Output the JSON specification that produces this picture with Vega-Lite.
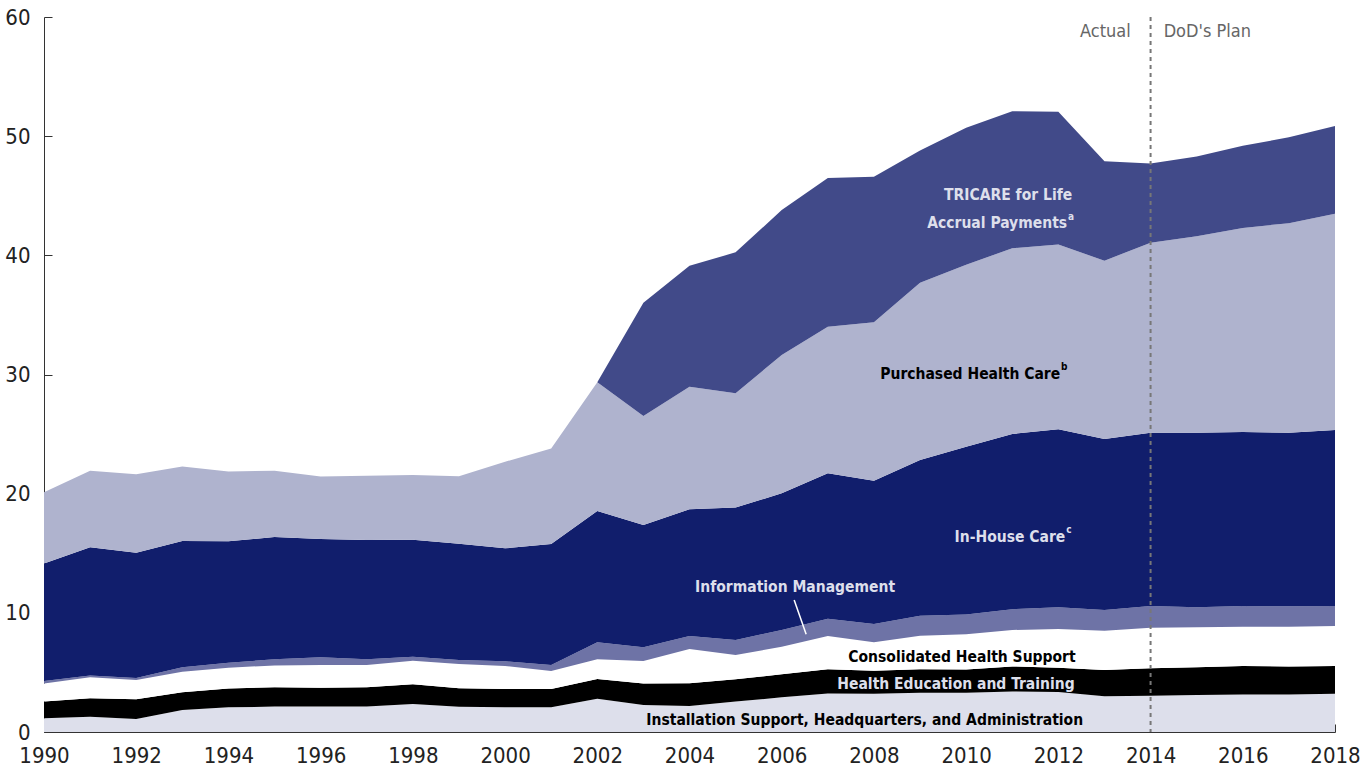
{
  "$schema": "https://vega.github.io/schema/vega-lite/v6.json",
  "width": 1291,
  "height": 715,
  "autosize": {"type": "none"},
  "padding": {"left": 44, "top": 17, "right": 32, "bottom": 41},
  "background": "white",
  "config": {
    "view": {"stroke": null},
    "axis": {
      "grid": false,
      "domainColor": "#333333",
      "tickColor": "#333333",
      "labelColor": "#222222",
      "labelFont": "Liberation Sans Narrow, DejaVu Sans Condensed, sans-serif",
      "labelFontSize": 22,
      "title": null
    }
  },
  "datasets": {
    "budget": [
      {"year": 1990, "1_Installation": 1.15, "2_Education": 1.40, "3_Consolidated": 1.53, "4_InfoMgmt": 0.20, "5_InHouse": 9.87, "6_Purchased": 5.96, "7_TFL": 0},
      {"year": 1991, "1_Installation": 1.29, "2_Education": 1.54, "3_Consolidated": 1.76, "4_InfoMgmt": 0.16, "5_InHouse": 10.75, "6_Purchased": 6.43, "7_TFL": 0},
      {"year": 1992, "1_Installation": 1.09, "2_Education": 1.65, "3_Consolidated": 1.62, "4_InfoMgmt": 0.17, "5_InHouse": 10.52, "6_Purchased": 6.57, "7_TFL": 0},
      {"year": 1993, "1_Installation": 1.85, "2_Education": 1.48, "3_Consolidated": 1.73, "4_InfoMgmt": 0.37, "5_InHouse": 10.60, "6_Purchased": 6.24, "7_TFL": 0},
      {"year": 1994, "1_Installation": 2.07, "2_Education": 1.59, "3_Consolidated": 1.74, "4_InfoMgmt": 0.42, "5_InHouse": 10.18, "6_Purchased": 5.85, "7_TFL": 0},
      {"year": 1995, "1_Installation": 2.13, "2_Education": 1.62, "3_Consolidated": 1.84, "4_InfoMgmt": 0.51, "5_InHouse": 10.26, "6_Purchased": 5.57, "7_TFL": 0},
      {"year": 1996, "1_Installation": 2.13, "2_Education": 1.59, "3_Consolidated": 1.90, "4_InfoMgmt": 0.65, "5_InHouse": 9.93, "6_Purchased": 5.25, "7_TFL": 0},
      {"year": 1997, "1_Installation": 2.13, "2_Education": 1.62, "3_Consolidated": 1.87, "4_InfoMgmt": 0.48, "5_InHouse": 10.01, "6_Purchased": 5.39, "7_TFL": 0},
      {"year": 1998, "1_Installation": 2.35, "2_Education": 1.65, "3_Consolidated": 1.98, "4_InfoMgmt": 0.34, "5_InHouse": 9.82, "6_Purchased": 5.43, "7_TFL": 0},
      {"year": 1999, "1_Installation": 2.12, "2_Education": 1.56, "3_Consolidated": 2.02, "4_InfoMgmt": 0.35, "5_InHouse": 9.75, "6_Purchased": 5.67, "7_TFL": 0},
      {"year": 2000, "1_Installation": 2.07, "2_Education": 1.54, "3_Consolidated": 1.93, "4_InfoMgmt": 0.39, "5_InHouse": 9.48, "6_Purchased": 7.27, "7_TFL": 0},
      {"year": 2001, "1_Installation": 2.07, "2_Education": 1.54, "3_Consolidated": 1.51, "4_InfoMgmt": 0.50, "5_InHouse": 10.16, "6_Purchased": 8.02, "7_TFL": 0},
      {"year": 2002, "1_Installation": 2.80, "2_Education": 1.65, "3_Consolidated": 1.65, "4_InfoMgmt": 1.43, "5_InHouse": 11.02, "6_Purchased": 10.79, "7_TFL": 0},
      {"year": 2003, "1_Installation": 2.27, "2_Education": 1.79, "3_Consolidated": 1.90, "4_InfoMgmt": 1.15, "5_InHouse": 10.26, "6_Purchased": 9.15, "7_TFL": 9.51},
      {"year": 2004, "1_Installation": 2.18, "2_Education": 1.91, "3_Consolidated": 2.87, "4_InfoMgmt": 1.10, "5_InHouse": 10.63, "6_Purchased": 10.29, "7_TFL": 10.15},
      {"year": 2005, "1_Installation": 2.55, "2_Education": 1.87, "3_Consolidated": 2.04, "4_InfoMgmt": 1.26, "5_InHouse": 11.11, "6_Purchased": 9.59, "7_TFL": 11.83},
      {"year": 2006, "1_Installation": 2.91, "2_Education": 1.93, "3_Consolidated": 2.32, "4_InfoMgmt": 1.40, "5_InHouse": 11.47, "6_Purchased": 11.61, "7_TFL": 12.16},
      {"year": 2007, "1_Installation": 3.24, "2_Education": 2.02, "3_Consolidated": 2.80, "4_InfoMgmt": 1.45, "5_InHouse": 12.20, "6_Purchased": 12.30, "7_TFL": 12.49},
      {"year": 2008, "1_Installation": 3.20, "2_Education": 1.95, "3_Consolidated": 2.38, "4_InfoMgmt": 1.53, "5_InHouse": 12.03, "6_Purchased": 13.29, "7_TFL": 12.22},
      {"year": 2009, "1_Installation": 3.30, "2_Education": 1.96, "3_Consolidated": 2.82, "4_InfoMgmt": 1.67, "5_InHouse": 13.07, "6_Purchased": 14.88, "7_TFL": 11.10},
      {"year": 2010, "1_Installation": 3.30, "2_Education": 1.95, "3_Consolidated": 2.95, "4_InfoMgmt": 1.65, "5_InHouse": 14.09, "6_Purchased": 15.26, "7_TFL": 11.50},
      {"year": 2011, "1_Installation": 3.40, "2_Education": 2.10, "3_Consolidated": 3.06, "4_InfoMgmt": 1.74, "5_InHouse": 14.71, "6_Purchased": 15.59, "7_TFL": 11.50},
      {"year": 2012, "1_Installation": 3.35, "2_Education": 2.05, "3_Consolidated": 3.24, "4_InfoMgmt": 1.82, "5_InHouse": 14.94, "6_Purchased": 15.50, "7_TFL": 11.15},
      {"year": 2013, "1_Installation": 3.00, "2_Education": 2.20, "3_Consolidated": 3.30, "4_InfoMgmt": 1.74, "5_InHouse": 14.35, "6_Purchased": 14.96, "7_TFL": 8.35},
      {"year": 2014, "1_Installation": 3.05, "2_Education": 2.30, "3_Consolidated": 3.40, "4_InfoMgmt": 1.82, "5_InHouse": 14.55, "6_Purchased": 15.94, "7_TFL": 6.64},
      {"year": 2015, "1_Installation": 3.10, "2_Education": 2.33, "3_Consolidated": 3.35, "4_InfoMgmt": 1.68, "5_InHouse": 14.66, "6_Purchased": 16.48, "7_TFL": 6.70},
      {"year": 2016, "1_Installation": 3.15, "2_Education": 2.39, "3_Consolidated": 3.30, "4_InfoMgmt": 1.73, "5_InHouse": 14.60, "6_Purchased": 17.13, "7_TFL": 6.90},
      {"year": 2017, "1_Installation": 3.15, "2_Education": 2.35, "3_Consolidated": 3.34, "4_InfoMgmt": 1.71, "5_InHouse": 14.57, "6_Purchased": 17.58, "7_TFL": 7.20},
      {"year": 2018, "1_Installation": 3.20, "2_Education": 2.34, "3_Consolidated": 3.36, "4_InfoMgmt": 1.67, "5_InHouse": 14.77, "6_Purchased": 18.16, "7_TFL": 7.35}
    ],
    "labels": [
      {"year": 2010.91, "value": 45.06, "text": "TRICARE for Life", "tone": "light"},
      {"year": 2006.29, "value": 12.17, "text": "Information Management", "tone": "light"},
      {"year": 2009.91, "value": 6.29, "text": "Consolidated Health Support", "tone": "dark"},
      {"year": 2009.78, "value": 4.03, "text": "Health Education and Training", "tone": "light"},
      {"year": 2007.80, "value": 1.01, "text": "Installation Support, Headquarters, and Administration", "tone": "dark"}
    ],
    "labelsNoted": [
      {"year": 2012.19, "value": 42.71, "text": "Accrual Payments", "tone": "light"},
      {"year": 2012.04, "value": 30.04, "text": "Purchased Health Care", "tone": "dark"},
      {"year": 2012.15, "value": 16.36, "text": "In-House Care", "tone": "light"}
    ],
    "sups": [
      {"year": 2012.21, "value": 43.22, "text": "a", "tone": "light"},
      {"year": 2012.06, "value": 30.63, "text": "b", "tone": "dark"},
      {"year": 2012.17, "value": 16.95, "text": "c", "tone": "light"}
    ],
    "periods": [
      {"year": 2013.02, "value": 58.74, "text": "Actual"},
      {"year": 2015.23, "value": 58.74, "text": "DoD's Plan"}
    ],
    "pointer": [
      {"year": 2006.27, "value": 11.08, "year2": 2006.53, "value2": 8.2}
    ],
    "divider": [
      {"year": 2014}
    ]
  },
  "layer": [
    {
      "data": {"name": "budget"},
      "transform": [
        {"fold": ["1_Installation", "2_Education", "3_Consolidated", "4_InfoMgmt", "5_InHouse", "6_Purchased", "7_TFL"], "as": ["series", "value"]}
      ],
      "mark": {"type": "area", "interpolate": "linear"},
      "encoding": {
        "x": {
          "field": "year", "type": "quantitative",
          "scale": {"domain": [1990, 2018], "nice": false, "zero": false},
          "axis": {
            "values": [1990, 1992, 1994, 1996, 1998, 2000, 2002, 2004, 2006, 2008, 2010, 2012, 2014, 2016, 2018],
            "format": "d", "tickSize": -8, "labelPadding": 21, "labelFlush": false
          }
        },
        "y": {
          "field": "value", "type": "quantitative", "stack": "zero",
          "scale": {"domain": [0, 60], "nice": false},
          "axis": {"values": [0, 10, 20, 30, 40, 50, 60], "tickSize": -8, "labelPadding": 22, "labelFlush": false}
        },
        "color": {
          "field": "series", "type": "nominal",
          "scale": {
            "domain": ["1_Installation", "2_Education", "3_Consolidated", "4_InfoMgmt", "5_InHouse", "6_Purchased", "7_TFL"],
            "range": ["#dddfeb", "#000000", "#ffffff", "#6e73a6", "#111e6c", "#afb3ce", "#414a89"]
          },
          "legend": null
        },
        "order": {"field": "series", "sort": "ascending"}
      }
    },
    {
      "data": {"name": "divider"},
      "mark": {"type": "rule", "color": "#777777", "strokeDash": [4, 4], "strokeWidth": 2},
      "encoding": {"x": {"field": "year", "type": "quantitative"}}
    },
    {
      "data": {"name": "pointer"},
      "mark": {"type": "rule", "color": "#ffffff", "strokeWidth": 1.5},
      "encoding": {
        "x": {"field": "year", "type": "quantitative"},
        "y": {"field": "value", "type": "quantitative"},
        "x2": {"field": "year2"},
        "y2": {"field": "value2"}
      }
    },
    {
      "data": {"name": "labels"},
      "mark": {"type": "text", "font": "DejaVu Sans Condensed, sans-serif", "fontWeight": "bold", "fontSize": 15.5, "align": "center", "baseline": "middle", "opacity": 1},
      "encoding": {
        "x": {"field": "year", "type": "quantitative"},
        "y": {"field": "value", "type": "quantitative"},
        "text": {"field": "text"},
        "color": {"field": "tone", "type": "nominal", "scale": {"domain": ["light", "dark"], "range": ["#ffffff", "#000000"]}, "legend": null}
      }
    },
    {
      "data": {"name": "labelsNoted"},
      "mark": {"type": "text", "font": "DejaVu Sans Condensed, sans-serif", "fontWeight": "bold", "fontSize": 15.5, "align": "right", "baseline": "middle", "opacity": 1},
      "encoding": {
        "x": {"field": "year", "type": "quantitative"},
        "y": {"field": "value", "type": "quantitative"},
        "text": {"field": "text"},
        "color": {"field": "tone", "type": "nominal", "scale": {"domain": ["light", "dark"], "range": ["#ffffff", "#000000"]}, "legend": null}
      }
    },
    {
      "data": {"name": "sups"},
      "mark": {"type": "text", "font": "DejaVu Sans Condensed, sans-serif", "fontWeight": "bold", "fontSize": 10, "align": "left", "baseline": "middle", "opacity": 1},
      "encoding": {
        "x": {"field": "year", "type": "quantitative"},
        "y": {"field": "value", "type": "quantitative"},
        "text": {"field": "text"},
        "color": {"field": "tone", "type": "nominal", "scale": {"domain": ["light", "dark"], "range": ["#ffffff", "#000000"]}, "legend": null}
      }
    },
    {
      "data": {"name": "periods"},
      "mark": {"type": "text", "font": "DejaVu Sans Condensed, sans-serif", "fontSize": 18, "align": "center", "baseline": "middle", "color": "#666666"},
      "encoding": {
        "x": {"field": "year", "type": "quantitative"},
        "y": {"field": "value", "type": "quantitative"},
        "text": {"field": "text"}
      }
    }
  ]
}
